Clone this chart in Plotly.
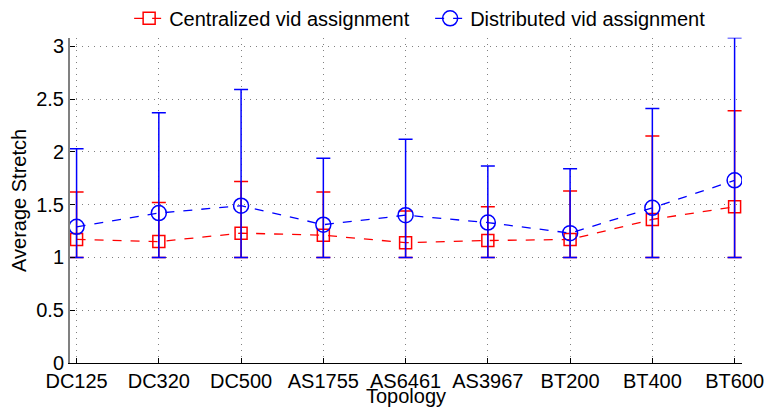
import plotly.graph_objects as go

topologies = ["DC125", "DC320", "DC500", "AS1755", "AS6461", "AS3967", "BT200", "BT400", "BT600"]
x_pos = list(range(1, len(topologies) + 1))

central_mean = [1.17, 1.15, 1.23, 1.21, 1.14, 1.16, 1.17, 1.36, 1.48]
central_upper = [1.62, 1.52, 1.72, 1.62, 1.44, 1.48, 1.63, 2.15, 2.39]
central_lower = [1.0, 1.0, 1.0, 1.0, 1.0, 1.0, 1.0, 1.0, 1.0]

distrib_mean = [1.29, 1.42, 1.49, 1.31, 1.40, 1.33, 1.23, 1.47, 1.73]
distrib_upper = [2.03, 2.37, 2.59, 1.94, 2.12, 1.865, 1.84, 2.41, 3.08]
distrib_lower = [1.0, 1.0, 1.0, 1.0, 1.0, 1.0, 1.0, 1.0, 1.0]

y_ticks = [0, 0.5, 1, 1.5, 2, 2.5, 3]
y_ticktext = ["0", "0.5", "1", "1.5", "2", "2.5", "3"]

font_family = "Liberation Sans, Arial, Helvetica, sans-serif"

fig = go.Figure()

fig.add_trace(go.Scatter(
    x=x_pos, y=central_mean,
    mode="lines+markers",
    name="Centralized vid assignment",
    line=dict(color="#ff0000", width=1.3, dash="dash"),
    marker=dict(symbol="square-open", size=12, color="#ff0000", line=dict(width=1.5, color="#ff0000")),
    error_y=dict(
        type="data", symmetric=False,
        array=[u - m for u, m in zip(central_upper, central_mean)],
        arrayminus=[m - l for m, l in zip(central_mean, central_lower)],
        color="#ff0000", thickness=1.5, width=7,
    ),
))

fig.add_trace(go.Scatter(
    x=x_pos, y=distrib_mean,
    mode="lines+markers",
    name="Distributed vid assignment",
    line=dict(color="#0000ff", width=1.3, dash="dash"),
    marker=dict(symbol="circle-open", size=15, color="#0000ff", line=dict(width=1.5, color="#0000ff")),
    error_y=dict(
        type="data", symmetric=False,
        array=[u - m for u, m in zip(distrib_upper, distrib_mean)],
        arrayminus=[m - l for m, l in zip(distrib_mean, distrib_lower)],
        color="#0000ff", thickness=1.5, width=7,
    ),
))

fig.update_layout(
    width=768, height=407,
    margin=dict(l=70, r=26, t=35, b=44),
    paper_bgcolor="white", plot_bgcolor="white",
    font=dict(family=font_family, size=20, color="black"),
    showlegend=True,
    legend=dict(
        orientation="h",
        x=0.088, xanchor="left",
        yref="container", y=0.955, yanchor="middle",
        font=dict(size=20, family=font_family),
        bgcolor="rgba(0,0,0,0)", itemwidth=30,
        entrywidth=256, entrywidthmode="pixels",
    ),
    xaxis=dict(
        range=[0.92, 9.09],
        automargin=False,
        tickmode="array", tickvals=x_pos, ticktext=topologies,
        ticks="inside", ticklen=5, tickcolor="black",
        showline=True, linecolor="black", linewidth=1,
        showgrid=True, gridcolor="#808080", griddash="1px,5px", gridwidth=1,
        zeroline=False,
        tickfont=dict(size=20),
        title=dict(text="Topology", font=dict(size=20), standoff=0),
    ),
    yaxis=dict(
        range=[0, 3.08],
        automargin=False,
        tickmode="array", tickvals=y_ticks, ticktext=y_ticktext,
        ticks="inside", ticklen=5, tickcolor="black",
        showline=True, linecolor="#808080", linewidth=2,
        showgrid=True, gridcolor="#808080", griddash="1px,5px", gridwidth=1,
        zeroline=False,
        tickfont=dict(size=20),
        title=dict(text="Average Stretch", font=dict(size=20), standoff=4),
    ),
)

fig.write_html("out.html")
